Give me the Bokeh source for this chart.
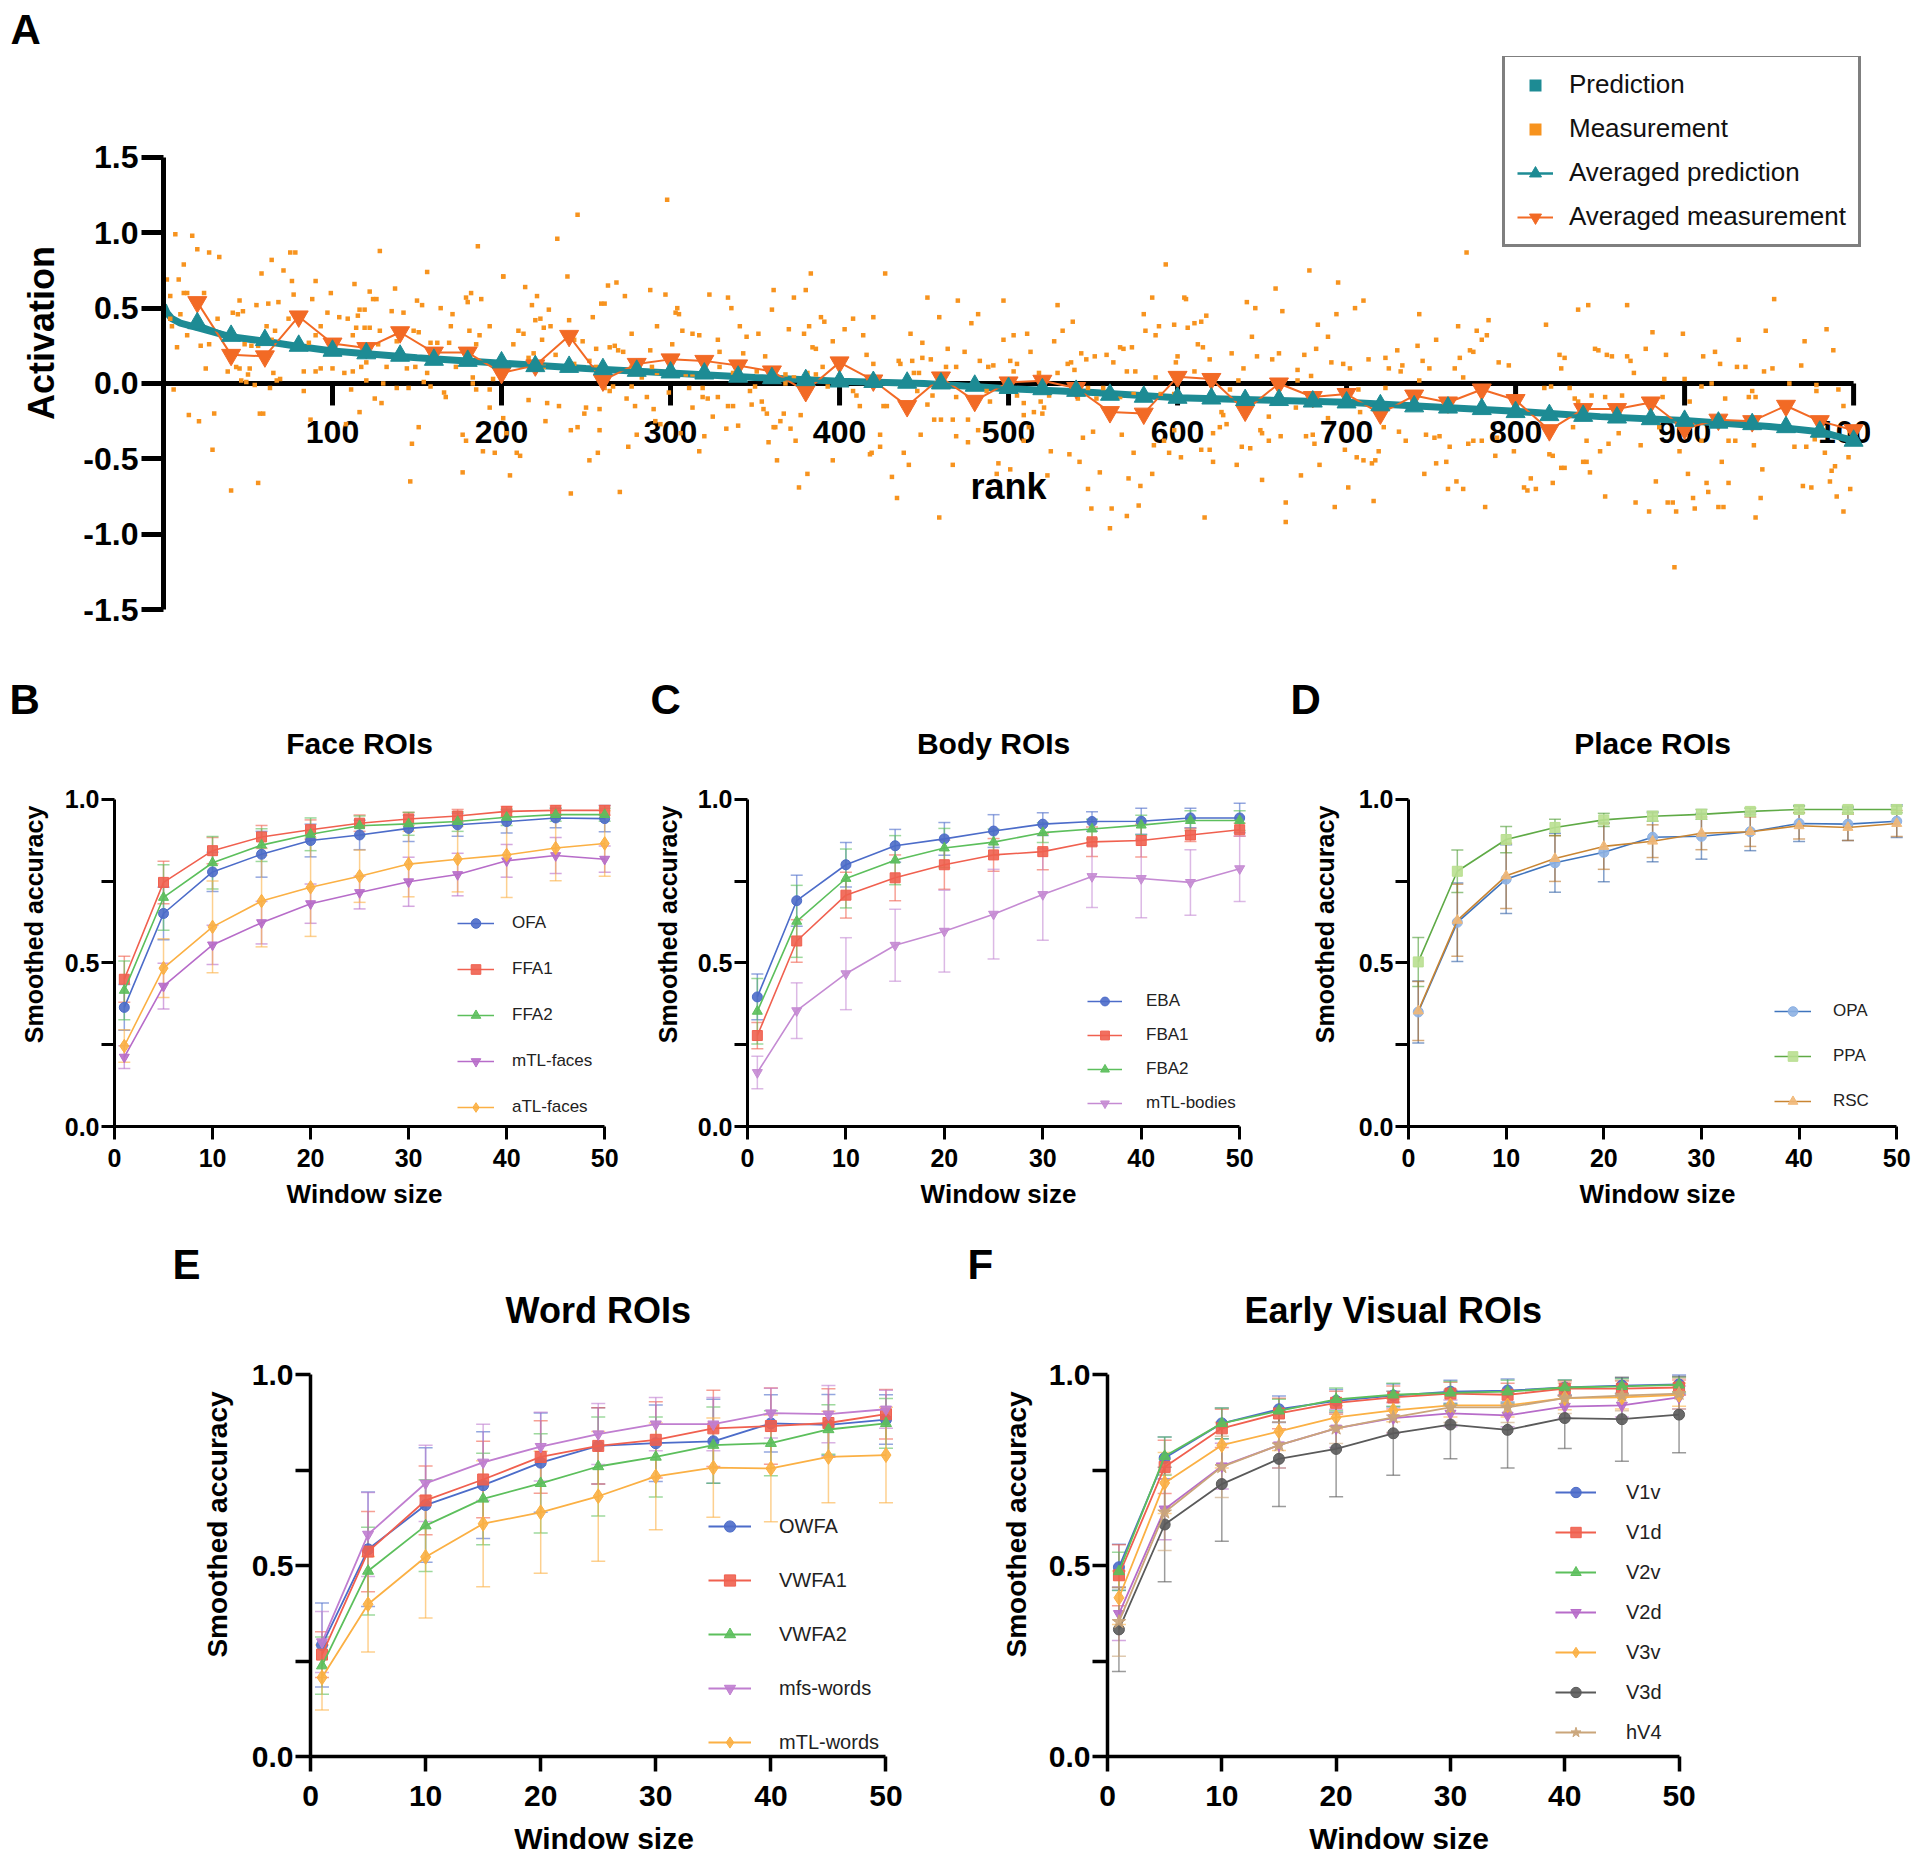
from bokeh.plotting import figure
from bokeh.models import (ColumnDataSource, Whisker, TeeHead, Legend, LegendItem,
                          Label, FixedTicker, Range1d)
from bokeh.layouts import column, row
from bokeh.embed import file_html
from bokeh.resources import INLINE
from bokeh.core.properties import value

FONT = "Liberation Sans"

# ---------------- Panel A data ----------------
A_YTICKS = [-1.5, -1.0, -0.5, 0.0, 0.5, 1.0, 1.5]
A_YLABELS = ["-1.5", "-1.0", "-0.5", "0.0", "0.5", "1.0", "1.5"]
RANK_TICKS = [100, 200, 300, 400, 500, 600, 700, 800, 900, 1000]
RANK_LABELS = ["100", "200", "300", "400", "500", "600", "700", "800", "900", "1000"]

AVG_RANK = [20, 40, 60, 80, 100, 120, 140, 160, 180, 200,
            220, 240, 260, 280, 300, 320, 340, 360, 380, 400,
            420, 440, 460, 480, 500, 520, 540, 560, 580, 600,
            620, 640, 660, 680, 700, 720, 740, 760, 780, 800,
            820, 840, 860, 880, 900, 920, 940, 960, 980, 1000]
AVG_PRED = [0.40, 0.316, 0.288, 0.25, 0.217, 0.20, 0.184, 0.157, 0.15, 0.14,
            0.115, 0.11, 0.095, 0.084, 0.073, 0.066, 0.045, 0.035, 0.022, 0.013,
            0.01, 0.005, 0.0, -0.015, -0.03, -0.038, -0.049, -0.075, -0.088, -0.095,
            -0.10, -0.11, -0.11, -0.12, -0.126, -0.145, -0.152, -0.16, -0.17, -0.19,
            -0.21, -0.215, -0.226, -0.237, -0.248, -0.26, -0.27, -0.29, -0.32, -0.38]
AVG_MEAS = [0.54, 0.19, 0.18, 0.445, 0.265, 0.235, 0.34, 0.205, 0.205, 0.07,
            0.12, 0.316, 0.02, 0.13, 0.16, 0.15, 0.12, 0.08, -0.05, 0.14,
            0.02, -0.15, 0.04, -0.115, 0.007, 0.018, -0.03, -0.19, -0.20, 0.044,
            0.03, -0.18, 0.0, -0.09, -0.07, -0.20, -0.08, -0.126, -0.04, -0.11,
            -0.31, -0.17, -0.17, -0.126, -0.30, -0.24, -0.25, -0.148, -0.25, -0.31]

PRED_RANK = [0, 2, 5, 10, 20, 40, 60, 80, 100, 150, 200, 250, 300, 350, 400, 450,
             500, 550, 600, 650, 700, 750, 800, 850, 900, 950, 980, 1000]
PRED_VAL = [0.52, 0.47, 0.43, 0.40, 0.37, 0.31, 0.28, 0.245, 0.215, 0.17, 0.135, 0.10,
            0.07, 0.04, 0.015, 0.0, -0.035, -0.06, -0.095, -0.11, -0.125, -0.155,
            -0.185, -0.22, -0.245, -0.285, -0.32, -0.38]

MEAS_RANK_1 = [7, 17, 20, 27, 33, 12, 2, 9, 64, 75, 78, 71, 58, 76, 90, 113, 128, 156, 186, 201,
               4, 12, 14, 24, 45, 55, 62, 68, 77, 88, 99, 122, 124, 126, 137, 150, 153, 164, 179, 182, 188, 180,
               10, 32, 41, 44, 47, 61, 66, 74, 93, 97, 104, 109, 115, 116, 119, 135, 142, 128, 114, 119, 122, 148, 151, 171, 170, 181, 193,
               4, 5, 14, 22, 27, 8, 52, 48, 56, 64, 86, 90, 112, 127, 138, 158, 162, 169, 185, 187,
               25, 38, 45, 43, 51, 50, 65, 83, 90, 93, 100, 107, 112, 117, 120, 132, 144, 149, 156, 173, 183, 195,
               6, 46, 49, 54, 63, 67, 69, 83, 111, 120, 130, 138, 145, 154, 158, 166, 167, 183, 185, 193, 125, 129,
               15, 21, 30, 57, 59, 87, 116, 108, 151, 147, 29, 40, 56, 146, 177, 177, 179, 189, 196, 193, 201]
MEAS_VAL_1 = [0.99, 0.98, 0.89, 0.87, 0.84, 0.79, 0.69, 0.69, 0.82, 0.87, 0.87, 0.75, 0.73, 0.68, 0.68, 0.66, 0.88, 0.74, 0.91, 0.71,
              0.58, 0.60, 0.60, 0.60, 0.55, 0.52, 0.53, 0.54, 0.59, 0.56, 0.60, 0.61, 0.56, 0.56, 0.63, 0.55, 0.52, 0.50, 0.57, 0.60, 0.56, 0.54,
              0.46, 0.43, 0.47, 0.46, 0.48, 0.38, 0.35, 0.43, 0.38, 0.47, 0.44, 0.43, 0.45, 0.49, 0.49, 0.48, 0.47, 0.35, 0.37, 0.37, 0.37, 0.35, 0.34, 0.46, 0.38, 0.35, 0.38,
              0.43, 0.38, 0.32, 0.25, 0.26, 0.24, 0.25, 0.26, 0.25, 0.29, 0.27, 0.32, 0.32, 0.26, 0.28, 0.27, 0.27, 0.27, 0.26, 0.32,
              0.10, 0.08, 0.10, 0.11, 0.10, 0.06, 0.07, 0.08, 0.08, 0.10, 0.10, 0.07, 0.08, 0.11, 0.14, 0.11, 0.10, 0.11, 0.07, 0.11, 0.04, 0.03,
              -0.04, 0.02, 0.01, -0.01, -0.03, 0.02, 0.03, -0.05, -0.04, 0.02, 0.00, -0.03, -0.03, 0.01, -0.02, -0.06, -0.09, 0.00, -0.04, -0.04, -0.10, -0.13,
              -0.21, -0.25, -0.20, -0.20, -0.20, -0.24, -0.19, -0.27, -0.29, -0.40, -0.44, -0.71, -0.66, -0.65, -0.59, -0.34, -0.38, -0.45, -0.46, -0.16, -0.23]

MEAS_RANK_2 = [298, 245, 233, 239, 201, 214, 221, 218, 228, 220, 223, 225, 229, 213, 210, 224, 240, 243, 248, 207,
               254, 259, 261, 263, 268, 273, 288, 297, 292, 277, 267, 269, 272, 264, 256, 304, 303, 305, 307, 313,
               317, 301, 323, 334, 336, 341, 328, 329, 345, 343, 352, 356, 360, 361, 370, 373, 380, 383, 379, 389,
               391, 396, 382, 384, 386, 390,
               216, 219, 225, 232, 243, 252, 256, 277, 282, 283, 289, 288, 292, 309, 313, 320, 329, 337, 351, 368, 373, 381, 386,
               261, 264, 266, 277, 299, 311, 319, 347, 350, 368, 393,
               216, 227, 234, 250, 258, 274, 286, 279, 290, 313, 319, 322, 328, 334, 337, 348, 354, 355, 357, 367, 377, 249,
               226, 245, 241, 258, 280, 294, 291, 325, 320, 333, 340, 362, 365, 371, 374, 358, 361,
               209, 211, 205, 203, 252, 257, 275, 317, 306, 241, 270, 363, 381, 376, 396]
MEAS_VAL_2 = [1.22, 1.12, 0.96, 0.71, 0.71, 0.64, 0.58, 0.52, 0.49, 0.42, 0.43, 0.37, 0.38, 0.33, 0.35, 0.29, 0.42, 0.29, 0.28, 0.26,
              0.44, 0.53, 0.53, 0.65, 0.67, 0.58, 0.62, 0.59, 0.38, 0.33, 0.25, 0.22, 0.21, 0.24, 0.23, 0.50, 0.47, 0.46, 0.35, 0.33,
              0.32, 0.26, 0.59, 0.57, 0.50, 0.38, 0.29, 0.21, 0.31, 0.20, 0.33, 0.18, 0.49, 0.62, 0.36, 0.57, 0.62, 0.73, 0.33, 0.44,
              0.41, 0.28, 0.38, 0.24, 0.23, 0.11,
              0.17, 0.20, 0.11, 0.19, 0.13, 0.15, 0.11, 0.11, 0.15, 0.04, 0.11, 0.22, 0.07, 0.06, 0.06, 0.13, 0.11, 0.07, 0.08, 0.06, 0.04, 0.07, 0.06,
              -0.03, -0.05, -0.02, -0.02, -0.06, -0.03, -0.03, -0.05, -0.02, 0.00, -0.02,
              -0.11, -0.13, -0.15, -0.16, -0.17, -0.10, -0.09, -0.15, -0.17, -0.16, -0.09, -0.10, -0.09, -0.15, -0.15, -0.14, -0.12, -0.17, -0.20, -0.20, -0.21, -0.20,
              -0.25, -0.29, -0.31, -0.31, -0.34, -0.27, -0.25, -0.22, -0.35, -0.30, -0.28, -0.29, -0.25, -0.30, -0.38, -0.39, -0.29,
              -0.46, -0.48, -0.61, -0.33, -0.51, -0.46, -0.42, -0.45, -0.33, -0.73, -0.72, -0.51, -0.60, -0.69, -0.51]

MEAS_RANK_3 = [427, 452, 470, 497, 529, 593, 585, 604, 408, 420, 403, 414, 442, 449, 459, 464, 474, 478, 482, 497,
               503, 511, 513, 527, 532, 538, 537, 543, 551, 558, 566, 568, 573, 580, 581, 587, 589, 598, 600,
               416, 420, 435, 436, 443, 449, 454, 463, 469, 483, 488, 491, 501, 503, 505, 518, 529, 535, 539, 546,
               562, 570, 575, 587, 599, 444, 447,
               408, 410, 412, 426, 428, 446, 452, 455, 469, 480, 487, 489, 505, 509, 509, 515, 519, 520, 521, 524,
               541, 547, 552, 556, 566, 574, 590, 598,
               424, 424, 419, 418, 438, 441, 448, 456, 460, 467, 469, 476, 482, 476, 494, 501, 493, 509, 512, 523,
               525, 536, 542, 544, 550, 554, 567, 574, 571, 578, 585, 586, 592, 595, 598, 602, 431, 434, 459, 467,
               547, 549, 561, 560, 570, 577]
MEAS_VAL_3 = [0.73, 0.57, 0.55, 0.55, 0.52, 0.79, 0.57, 0.57, 0.43, 0.44, 0.36, 0.32, 0.33, 0.27, 0.44, 0.23, 0.21, 0.40, 0.46, 0.29,
              0.32, 0.33, 0.21, 0.28, 0.35, 0.41, 0.14, 0.20, 0.18, 0.19, 0.24, 0.23, 0.24, 0.46, 0.35, 0.32, 0.38, 0.39, 0.18,
              0.19, 0.13, 0.15, 0.13, 0.15, 0.17, 0.16, 0.11, 0.11, 0.15, 0.11, 0.12, 0.15, 0.08, 0.13, 0.07, 0.07, 0.13, 0.09, 0.16,
              0.14, 0.08, 0.08, 0.04, 0.14, 0.07, 0.07,
              -0.05, -0.08, -0.15, -0.15, -0.15, -0.05, -0.14, -0.08, -0.09, -0.10, -0.05, -0.12, -0.08, -0.13, -0.21, -0.19, -0.12, -0.20, -0.16, -0.08,
              -0.10, -0.03, -0.10, -0.03, -0.09, -0.07, -0.07, -0.07,
              -0.34, -0.42, -0.46, -0.47, -0.46, -0.54, -0.34, -0.24, -0.24, -0.24, -0.35, -0.24, -0.31, -0.39, -0.53, -0.57, -0.60, -0.38, -0.29, -0.61,
              -0.45, -0.47, -0.52, -0.36, -0.32, -0.59, -0.34, -0.46, -0.63, -0.68, -0.60, -0.41, -0.38, -0.46, -0.31, -0.49, -0.62, -0.76, -0.89, -0.54,
              -0.70, -0.83, -0.83, -0.96, -0.88, -0.81]

MEAS_RANK_4 = [771, 678, 695, 658, 605, 641, 646, 662, 710, 705, 694, 743, 617, 614, 610, 606, 683, 784, 777, 783,
               780, 766, 644, 689, 753, 612, 615, 632, 647, 660, 675, 682, 730, 742, 773, 775, 619, 656, 691, 698,
               713, 723, 725, 732, 733, 745, 749, 764, 767, 790, 796, 610, 639, 671, 679, 702, 636, 671, 743, 769,
               631, 707, 723, 626, 627, 654, 670, 625, 621, 629, 649, 650, 654, 661, 676, 680, 681, 699, 689, 708,
               722, 731, 735, 747, 752, 755, 761, 772, 775, 780, 789, 799, 619, 614, 621, 638, 643, 635, 684, 706,
               710, 715, 717, 719, 788, 759, 753, 746, 673, 650, 701, 765, 760, 769, 805, 616, 664, 664, 693, 716, 782]
MEAS_VAL_4 = [0.87, 0.75, 0.67, 0.63, 0.56, 0.54, 0.50, 0.48, 0.55, 0.50, 0.46, 0.46, 0.45, 0.41, 0.40, 0.37, 0.39, 0.42, 0.35, 0.32,
              0.29, 0.38, 0.31, 0.31, 0.29, 0.26, 0.24, 0.20, 0.18, 0.20, 0.19, 0.23, 0.22, 0.25, 0.22, 0.21, 0.16, 0.16, 0.14, 0.13,
              0.16, 0.17, 0.10, 0.08, 0.12, 0.15, 0.10, 0.10, 0.17, 0.14, 0.12, 0.08, 0.10, 0.09, 0.05, 0.10, 0.02, 0.02, 0.02, 0.04,
              -0.04, -0.04, -0.03, -0.19, -0.21, -0.22, -0.16, -0.29, -0.33, -0.27, -0.31, -0.33, -0.38, -0.35, -0.35, -0.34, -0.40, -0.44, -0.23, -0.19,
              -0.29, -0.32, -0.38, -0.34, -0.36, -0.35, -0.42, -0.40, -0.38, -0.38, -0.36, -0.45, -0.44, -0.44, -0.52, -0.42, -0.43, -0.54, -0.54, -0.49,
              -0.51, -0.53, -0.51, -0.45, -0.48, -0.52, -0.53, -0.60, -0.61, -0.64, -0.69, -0.65, -0.70, -0.70, -0.69, -0.89, -0.79, -0.92, -0.82, -0.78, -0.82]

MEAS_RANK_5 = [953, 837, 843, 866, 818, 881, 899, 932, 948, 971, 984, 988, 847, 849, 826, 829, 827, 854, 857, 866,
               868, 870, 877, 889, 911, 918, 921, 931, 936, 947, 952, 969, 888, 900, 916, 962, 978,
               817, 821, 832, 845, 853, 863, 887, 910, 903, 924, 938, 942, 940, 978, 991, 994, 835, 837, 834, 842,
               850, 855, 861, 874, 885, 897, 902, 910, 922, 926, 930, 941, 946, 965, 972, 977, 983, 987, 989, 997,
               842, 840, 822, 820, 844, 827, 829, 822, 809, 812, 807, 853, 871, 879, 883, 890, 893, 895, 906, 905,
               913, 914, 920, 923, 926, 942, 945, 970, 975, 986, 990, 994, 998, 894]
MEAS_VAL_5 = [0.56, 0.49, 0.52, 0.52, 0.39, 0.34, 0.33, 0.29, 0.35, 0.28, 0.36, 0.22, 0.23, 0.22, 0.19, 0.17, 0.10, 0.19, 0.18, 0.18,
              0.15, 0.07, 0.23, 0.19, 0.18, 0.21, 0.13, 0.11, 0.11, 0.08, 0.10, 0.12, 0.03, 0.03, 0.00, 0.00, -0.01,
              -0.03, -0.02, -0.03, -0.08, -0.09, -0.08, -0.09, -0.02, -0.12, -0.10, -0.09, -0.09, -0.05, -0.05, -0.04, -0.15, -0.10, -0.12, -0.29, -0.38,
              -0.45, -0.40, -0.33, -0.41, -0.29, -0.45, -0.60, -0.38, -0.52, -0.38, -0.38, -0.41, -0.57, -0.42, -0.42, -0.37, -0.46, -0.58, -0.55, -0.49,
              -0.52, -0.52, -0.48, -0.47, -0.59, -0.56, -0.56, -0.66, -0.63, -0.70, -0.71, -0.75, -0.79, -0.85, -0.65, -0.79, -0.79, -0.85, -0.83, -0.76,
              -0.66, -0.72, -0.82, -0.82, -0.66, -0.89, -0.76, -0.68, -0.69, -0.65, -0.75, -0.85, -0.70, -1.22]

# ---------------- Panels B-F data ----------------
WINDOW = [1, 5, 10, 15, 20, 25, 30, 35, 40, 45, 50]
X_TICKS = [0, 10, 20, 30, 40, 50]
Y_TICKS = [0.0, 0.25, 0.5, 0.75, 1.0]
Y_LABELS = ["0.0", "", "0.5", "", "1.0"]

OFA = [0.364, 0.651, 0.778, 0.832, 0.874, 0.891, 0.911, 0.922, 0.932, 0.943, 0.941]
OFA_ERR = [0.07, 0.08, 0.06, 0.07, 0.05, 0.045, 0.04, 0.035, 0.035, 0.03, 0.04]
FFA1 = [0.45, 0.746, 0.843, 0.885, 0.907, 0.927, 0.94, 0.949, 0.963, 0.966, 0.966]
FFA1_ERR = [0.07, 0.065, 0.04, 0.035, 0.03, 0.025, 0.02, 0.02, 0.015, 0.015, 0.015]
FFA2 = [0.416, 0.70, 0.806, 0.86, 0.893, 0.919, 0.925, 0.932, 0.945, 0.953, 0.953]
FFA2_ERR = [0.09, 0.10, 0.08, 0.05, 0.05, 0.03, 0.035, 0.03, 0.025, 0.02, 0.02]
MTL_FACES = [0.212, 0.429, 0.555, 0.623, 0.681, 0.715, 0.748, 0.77, 0.812, 0.828, 0.817]
MTL_FACES_ERR = [0.035, 0.07, 0.06, 0.065, 0.06, 0.05, 0.075, 0.065, 0.05, 0.055, 0.04]
ATL_FACES = [0.246, 0.484, 0.61, 0.689, 0.731, 0.765, 0.802, 0.817, 0.83, 0.851, 0.865]
ATL_FACES_ERR = [0.05, 0.09, 0.14, 0.14, 0.15, 0.08, 0.1, 0.1, 0.13, 0.1, 0.1]

EBA = [0.396, 0.69, 0.80, 0.858, 0.879, 0.903, 0.924, 0.932, 0.933, 0.943, 0.943]
EBA_ERR = [0.07, 0.078, 0.068, 0.05, 0.05, 0.05, 0.035, 0.03, 0.04, 0.03, 0.045]
FBA1 = [0.278, 0.567, 0.707, 0.76, 0.80, 0.83, 0.84, 0.87, 0.874, 0.891, 0.907]
FBA1_ERR = [0.04, 0.065, 0.07, 0.07, 0.075, 0.05, 0.055, 0.045, 0.05, 0.02, 0.02]
FBA2 = [0.352, 0.627, 0.758, 0.814, 0.851, 0.869, 0.898, 0.909, 0.921, 0.935, 0.935]
FBA2_ERR = [0.1, 0.11, 0.09, 0.075, 0.06, 0.04, 0.03, 0.03, 0.03, 0.03, 0.03]
MTL_BODIES = [0.165, 0.354, 0.467, 0.554, 0.597, 0.649, 0.709, 0.764, 0.758, 0.746, 0.788]
MTL_BODIES_ERR = [0.05, 0.085, 0.11, 0.11, 0.125, 0.137, 0.14, 0.095, 0.12, 0.1, 0.1]

OPA = [0.35, 0.624, 0.756, 0.806, 0.838, 0.884, 0.887, 0.901, 0.926, 0.924, 0.933]
OPA_ERR = [0.095, 0.12, 0.105, 0.09, 0.09, 0.075, 0.07, 0.058, 0.055, 0.05, 0.05]
PPA = [0.503, 0.78, 0.877, 0.914, 0.937, 0.948, 0.954, 0.963, 0.969, 0.969, 0.969]
PPA_ERR = [0.075, 0.065, 0.04, 0.025, 0.02, 0.015, 0.015, 0.01, 0.01, 0.01, 0.01]
RSC = [0.353, 0.63, 0.766, 0.819, 0.856, 0.872, 0.896, 0.901, 0.919, 0.914, 0.926]
RSC_ERR = [0.09, 0.11, 0.1, 0.07, 0.07, 0.05, 0.05, 0.045, 0.04, 0.04, 0.04]

OWFA = [0.292, 0.543, 0.659, 0.711, 0.77, 0.814, 0.821, 0.826, 0.873, 0.869, 0.883]
OWFA_ERR = [0.11, 0.15, 0.15, 0.14, 0.13, 0.1, 0.1, 0.11, 0.075, 0.08, 0.065]
VWFA1 = [0.267, 0.537, 0.671, 0.726, 0.785, 0.814, 0.83, 0.86, 0.866, 0.874, 0.897]
VWFA1_ERR = [0.06, 0.105, 0.09, 0.1, 0.095, 0.1, 0.1, 0.1, 0.1, 0.09, 0.065]
VWFA2 = [0.238, 0.486, 0.605, 0.675, 0.716, 0.76, 0.785, 0.816, 0.821, 0.857, 0.873]
VWFA2_ERR = [0.075, 0.115, 0.12, 0.12, 0.13, 0.13, 0.105, 0.1, 0.085, 0.065, 0.065]
MFS_WORDS = [0.30, 0.582, 0.716, 0.771, 0.812, 0.845, 0.871, 0.871, 0.90, 0.897, 0.91]
MFS_WORDS_ERR = [0.08, 0.11, 0.1, 0.1, 0.09, 0.08, 0.07, 0.07, 0.065, 0.075, 0.05]
MTL_WORDS = [0.207, 0.399, 0.523, 0.61, 0.64, 0.682, 0.734, 0.757, 0.755, 0.785, 0.79]
MTL_WORDS_ERR = [0.085, 0.125, 0.16, 0.165, 0.16, 0.17, 0.14, 0.13, 0.14, 0.12, 0.125]

V1V = [0.496, 0.782, 0.873, 0.91, 0.932, 0.946, 0.956, 0.959, 0.967, 0.972, 0.975]
V1V_ERR = [0.06, 0.055, 0.04, 0.035, 0.03, 0.03, 0.03, 0.03, 0.02, 0.02, 0.025]
V1D = [0.475, 0.759, 0.86, 0.899, 0.927, 0.941, 0.951, 0.948, 0.964, 0.964, 0.967]
V1D_ERR = [0.08, 0.07, 0.05, 0.04, 0.03, 0.03, 0.03, 0.03, 0.02, 0.02, 0.02]
V2V = [0.485, 0.787, 0.873, 0.906, 0.936, 0.948, 0.953, 0.956, 0.967, 0.97, 0.974]
V2V_ERR = [0.05, 0.05, 0.04, 0.03, 0.03, 0.03, 0.03, 0.03, 0.02, 0.02, 0.02]
V2D = [0.374, 0.648, 0.761, 0.816, 0.86, 0.887, 0.899, 0.894, 0.917, 0.92, 0.941]
V2D_ERR = [0.07, 0.08, 0.06, 0.06, 0.05, 0.04, 0.035, 0.03, 0.03, 0.03, 0.03]
V3V = [0.416, 0.717, 0.816, 0.852, 0.889, 0.907, 0.92, 0.92, 0.939, 0.941, 0.948]
V3V_ERR = [0.07, 0.08, 0.06, 0.05, 0.03, 0.03, 0.03, 0.03, 0.03, 0.03, 0.03]
V3D = [0.333, 0.608, 0.714, 0.78, 0.806, 0.847, 0.87, 0.856, 0.887, 0.884, 0.896]
V3D_ERR = [0.11, 0.15, 0.15, 0.125, 0.125, 0.11, 0.09, 0.1, 0.08, 0.11, 0.1]
HV4 = [0.353, 0.64, 0.759, 0.816, 0.86, 0.889, 0.915, 0.915, 0.939, 0.946, 0.951]
HV4_ERR = [0.09, 0.1, 0.08, 0.06, 0.04, 0.04, 0.04, 0.04, 0.04, 0.04, 0.04]

# ---------------- colours ----------------
TEAL = "#1d8b94"
ORANGE_DOT = "#f7931e"
ORANGE_AVG = "#f26a25"
BLUE = "#4c6cc9"
RED = "#f0604f"
GREEN = "#5cbf5c"
PURPLE = "#b76cc9"
ORANGE = "#fbb044"
GREY = "#5a5a5a"
TAN = "#caa57a"


def style_axis(ax, line_w, tick_out, tick_font, standoff):
    ax.axis_line_width = line_w
    ax.axis_line_color = "black"
    ax.major_tick_line_width = line_w
    ax.major_tick_line_color = "black"
    ax.major_tick_out = tick_out
    ax.major_tick_in = 0
    ax.minor_tick_line_color = None
    ax.major_label_text_font = FONT
    ax.major_label_text_font_style = "bold"
    ax.major_label_text_font_size = tick_font
    ax.major_label_text_color = "black"
    ax.major_label_standoff = standoff
    ax.axis_label_text_font = FONT
    ax.axis_label_text_font_style = "bold"
    ax.axis_label_text_color = "black"


def letter_title(p, letter, offset, standoff):
    p.title.text = letter
    p.title.align = "left"
    p.title.offset = offset
    p.title.standoff = standoff
    p.title.text_font = FONT
    p.title.text_font_style = "bold"
    p.title.text_font_size = "42px"
    p.title.text_color = "black"


# ================= Panel A =================
pA = figure(width=1920, height=670, x_range=Range1d(0, 1010), y_range=Range1d(-1.5, 2.170),
            x_axis_location=None, output_backend="svg", toolbar_location=None,
            min_border_left=163, min_border_right=50, min_border_top=56, min_border_bottom=61,
            background_fill_color="white", border_fill_color="white", outline_line_color=None)
pA.grid.visible = False
letter_title(pA, "A", -153, 7)
ya = pA.yaxis[0]
style_axis(ya, 5, 22, "32px", 3)
ya.bounds = (-1.5, 1.5)
ya.ticker = FixedTicker(ticks=A_YTICKS)
ya.major_label_overrides = dict(zip(A_YTICKS, A_YLABELS))
ya.axis_label = "Activation"
ya.axis_label_text_font_size = "36px"
ya.axis_label_standoff = 18

A_PX_PER_UNIT = 553 / 3.670
tick_len = 22 / A_PX_PER_UNIT
pA.segment(x0=[0], y0=[0], x1=[RANK_TICKS[-1]], y1=[0], line_width=5, line_color="black")
pA.segment(x0=RANK_TICKS, y0=[0] * len(RANK_TICKS), x1=RANK_TICKS, y1=[-tick_len] * len(RANK_TICKS),
           line_width=5, line_color="black")
pA.text(x=RANK_TICKS, y=[0] * len(RANK_TICKS), text=RANK_LABELS, y_offset=49,
        text_align="center", text_baseline="middle", text_font=value(FONT),
        text_font_style="bold", text_font_size="32px", text_color="black")
pA.text(x=[500], y=[0], text=["rank"], y_offset=103, text_align="center", text_baseline="middle",
        text_font=value(FONT), text_font_style="bold", text_font_size="36px", text_color="black")

r_pred_line = pA.line(PRED_RANK, PRED_VAL, line_width=7, line_color=TEAL)
r_pred = pA.scatter(PRED_RANK, PRED_VAL, marker="square", size=5, fill_color=TEAL, line_color=None)
meas_r = MEAS_RANK_1 + MEAS_RANK_2 + MEAS_RANK_3 + MEAS_RANK_4 + MEAS_RANK_5
meas_v = MEAS_VAL_1 + MEAS_VAL_2 + MEAS_VAL_3 + MEAS_VAL_4 + MEAS_VAL_5
n = min(len(meas_r), len(meas_v))
r_meas = pA.scatter(meas_r[:n], meas_v[:n], marker="square", size=4.5, fill_color=ORANGE_DOT, line_color=None)
r_am_line = pA.line(AVG_RANK, AVG_MEAS, line_width=2, line_color=ORANGE_AVG)
r_am = pA.scatter(AVG_RANK, AVG_MEAS, marker="inverted_triangle", size=19, fill_color=ORANGE_AVG, line_color=ORANGE_AVG)
r_ap_line = pA.line(AVG_RANK, AVG_PRED, line_width=2.5, line_color=TEAL)
r_ap = pA.scatter(AVG_RANK, AVG_PRED, marker="triangle", size=19, fill_color=TEAL, line_color=TEAL)

legA = Legend(items=[LegendItem(label="Prediction", renderers=[r_pred]),
                     LegendItem(label="Measurement", renderers=[r_meas]),
                     LegendItem(label="Averaged prediction", renderers=[r_ap_line, r_ap]),
                     LegendItem(label="Averaged measurement", renderers=[r_am_line, r_am])],
              location=(1339, 362), border_line_color="black", border_line_width=3,
              padding=12, margin=0, glyph_width=36, glyph_height=30, label_height=30,
              spacing=13, label_standoff=16, label_text_font=FONT, label_text_font_size="26px",
              label_text_color="#111111", background_fill_color="white", background_fill_alpha=1)
pA.add_layout(legA)


# ================= Panels B-F =================
def roi_panel(w, h, bl, br, bt, bb, y_end, title, title_y, letter, l_off, l_so, series, leg, st):
    p = figure(width=w, height=h, x_range=Range1d(0, 51), y_range=Range1d(0, y_end),
               output_backend="svg", toolbar_location=None,
               min_border_left=bl, min_border_right=br, min_border_top=bt, min_border_bottom=bb,
               background_fill_color="white", border_fill_color="white", outline_line_color=None)
    p.grid.visible = False
    letter_title(p, letter, l_off, l_so)
    xa = p.xaxis[0]
    yax = p.yaxis[0]
    style_axis(xa, st["aw"], st["tick"], st["tfont"], st["xts"])
    style_axis(yax, st["aw"], st["tick"], st["tfont"], 2)
    xa.ticker = FixedTicker(ticks=X_TICKS)
    xa.bounds = (0, 50)
    xa.axis_label = "Window size"
    xa.axis_label_text_font_size = st["xlfont"]
    xa.axis_label_standoff = st["xls"]
    yax.ticker = FixedTicker(ticks=Y_TICKS)
    yax.bounds = (0, 1)
    yax.major_label_overrides = dict(zip(Y_TICKS, Y_LABELS))
    yax.axis_label = "Smoothed accuracy"
    yax.axis_label_text_font_size = st["ylfont"]
    yax.axis_label_standoff = st["yls"]

    items = []
    for name, vals, errs, lc, mk, mc, ec in series:
        src = ColumnDataSource(dict(x=WINDOW, y=vals,
                                    up=[v + e for v, e in zip(vals, errs)],
                                    lo=[v - e for v, e in zip(vals, errs)]))
        wk = Whisker(source=src, base="x", upper="up", lower="lo", line_color=ec, line_alpha=0.6,
                     line_width=1.5,
                     upper_head=TeeHead(size=st["cap"], line_color=ec, line_alpha=0.6, line_width=1.5),
                     lower_head=TeeHead(size=st["cap"], line_color=ec, line_alpha=0.6, line_width=1.5))
        p.add_layout(wk)
        rl = p.line("x", "y", source=src, line_color=lc, line_width=st["lw"])
        msz = st["ms"] * (1.35 if mk == "diamond" else (1.3 if mk == "star" else 1.0))
        rs = p.scatter("x", "y", source=src, marker=mk, size=msz, fill_color=mc, line_color=mc,
                       fill_alpha=0.9)
        items.append(LegendItem(label=name, renderers=[rl, rs]))

    lg = Legend(items=items, location=(leg["x"], leg["y"]), padding=0, margin=0,
                border_line_color=None, background_fill_alpha=0,
                glyph_width=leg["gw"], glyph_height=leg["lh"], label_height=leg["lh"],
                spacing=leg["sp"], label_standoff=leg["so"],
                label_text_font=FONT, label_text_font_size=st["lfont"], label_text_color="#222222")
    p.add_layout(lg)
    p.add_layout(Label(x=25, y=title_y, text=title, text_align="center", text_baseline="middle",
                       text_font=FONT, text_font_style="bold", text_font_size=st["title"],
                       text_color="black"))
    return p


ST_SMALL = dict(aw=3, tick=13, tfont="25px", xlfont="26px", ylfont="25px", xts=9, xls=9, yls=14,
                title="30px", lfont="17px", ms=10, cap=12, lw=1.6)
ST_BIG = dict(aw=3.5, tick=15, tfont="30px", xlfont="30px", ylfont="28px", xts=14, xls=13, yls=16,
              title="36px", lfont="20px", ms=11, cap=14, lw=1.8)

B_SERIES = [("OFA", OFA, OFA_ERR, BLUE, "circle", BLUE, BLUE),
            ("FFA1", FFA1, FFA1_ERR, RED, "square", RED, RED),
            ("FFA2", FFA2, FFA2_ERR, GREEN, "triangle", GREEN, GREEN),
            ("mTL-faces", MTL_FACES, MTL_FACES_ERR, PURPLE, "inverted_triangle", PURPLE, PURPLE),
            ("aTL-faces", ATL_FACES, ATL_FACES_ERR, ORANGE, "diamond", ORANGE, ORANGE)]
C_SERIES = [("EBA", EBA, EBA_ERR, BLUE, "circle", BLUE, BLUE),
            ("FBA1", FBA1, FBA1_ERR, RED, "square", RED, RED),
            ("FBA2", FBA2, FBA2_ERR, GREEN, "triangle", GREEN, GREEN),
            ("mTL-bodies", MTL_BODIES, MTL_BODIES_ERR, "#c58bd3", "inverted_triangle", "#c58bd3", "#c58bd3")]
D_SERIES = [("OPA", OPA, OPA_ERR, "#3f74bd", "circle", "#8db1e3", "#2f5fa5"),
            ("PPA", PPA, PPA_ERR, "#5faa46", "square", "#b9df90", "#4e9c36"),
            ("RSC", RSC, RSC_ERR, "#c98532", "triangle", "#f1b878", "#bb7428")]
E_SERIES = [("OWFA", OWFA, OWFA_ERR, BLUE, "circle", BLUE, BLUE),
            ("VWFA1", VWFA1, VWFA1_ERR, RED, "square", RED, RED),
            ("VWFA2", VWFA2, VWFA2_ERR, GREEN, "triangle", GREEN, GREEN),
            ("mfs-words", MFS_WORDS, MFS_WORDS_ERR, "#c07ed0", "inverted_triangle", "#c07ed0", "#c07ed0"),
            ("mTL-words", MTL_WORDS, MTL_WORDS_ERR, ORANGE, "diamond", ORANGE, ORANGE)]
F_SERIES = [("V1v", V1V, V1V_ERR, BLUE, "circle", BLUE, BLUE),
            ("V1d", V1D, V1D_ERR, RED, "square", RED, RED),
            ("V2v", V2V, V2V_ERR, GREEN, "triangle", GREEN, GREEN),
            ("V2d", V2D, V2D_ERR, PURPLE, "inverted_triangle", PURPLE, PURPLE),
            ("V3v", V3V, V3V_ERR, ORANGE, "diamond", ORANGE, ORANGE),
            ("V3d", V3D, V3D_ERR, GREY, "circle", GREY, GREY),
            ("hV4", HV4, HV4_ERR, TAN, "star", TAN, TAN)]

pB = roi_panel(648, 560, 114, 34, 52, 104, 1.2347, "Face ROIs", 1.1705, "B", -105, 0, B_SERIES,
               dict(x=343, y=7, gw=37, lh=24, sp=22, so=18), ST_SMALL)
pC = roi_panel(640, 560, 99, 39, 52, 104, 1.2347, "Body ROIs", 1.1705, "C", -97, 0, C_SERIES,
               dict(x=340, y=12, gw=35, lh=22, sp=12, so=24), ST_SMALL)
pD = roi_panel(632, 560, 120, 14, 52, 104, 1.2347, "Place ROIs", 1.1705, "D", -118, 0, D_SERIES,
               dict(x=366, y=13, gw=37, lh=24, sp=21, so=22), ST_SMALL)
pD.yaxis[0].axis_label_standoff = 17
pC.yaxis[0].axis_label_standoff = 13

pE = roi_panel(960, 629, 310, 63, 62, 103, 1.216, "Word ROIs", 1.1688, "E", -138, 10, E_SERIES,
               dict(x=398, y=0, gw=43, lh=28, sp=26, so=28), ST_BIG)
pF = roi_panel(960, 629, 147, 230, 62, 103, 1.216, "Early Visual ROIs", 1.1688, "F", -140, 10, F_SERIES,
               dict(x=448, y=11, gw=41, lh=26, sp=14, so=30), ST_BIG)
pF.yaxis[0].axis_label_standoff = 14

layout = column(pA, row(pB, pC, pD), row(pE, pF))
open("out.html", "w").write(file_html(layout, INLINE))
